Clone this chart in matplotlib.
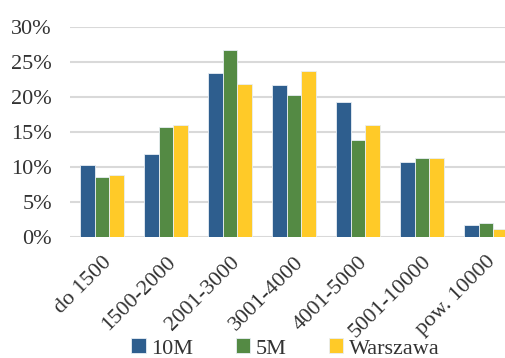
import matplotlib.pyplot as plt
import numpy as np
import matplotlib.ticker as ticker

# przedziały dochodu
kategorie = ["do 1500", "1500-2000", "2001-3000", "3001-4000", "4001-5000", "5001-10000", "pow. 10000"]

# udział procentowy
val_10m = [10.3, 11.9, 23.5, 21.8, 19.4, 10.8, 1.7]
val_5m = [8.6, 15.8, 26.8, 20.4, 13.9, 11.4, 2.0]
val_waw = [8.9, 16.0, 21.9, 23.8, 16.0, 11.4, 1.2]

serie = ["10M", "5M", "Warszawa"]
kolory = ["#2E5E8E", "#548A44", "#FFCA28"]

plt.rcParams["font.family"] = ["Liberation Serif", "DejaVu Serif"]

fig = plt.figure(figsize=(5.06, 3.58), dpi=100)
ax = fig.add_axes([70 / 506, (358 - 237.3) / 358, 448 / 506, 210 / 358])

x = np.arange(len(kategorie))
w = 0.227
for i, (dane, kolor, nazwa) in enumerate(zip([val_10m, val_5m, val_waw], kolory, serie)):
    ax.bar(x + (i - 1) * w, dane, width=w, color=kolor, label=nazwa,
           edgecolor="#E8EEF4", linewidth=0.6)

ax.set_xlim(-0.5, len(kategorie) - 0.5)
ax.set_ylim(0, 30)
ax.yaxis.set_major_locator(ticker.MultipleLocator(5))
ax.yaxis.set_major_formatter(ticker.FuncFormatter(lambda v, p: f"{int(v)}%"))
ax.grid(axis="y", color="#D9D9D9", linewidth=1.5)
ax.set_axisbelow(True)
for s in ax.spines.values():
    s.set_visible(False)

ax.set_xticks(x)
ax.set_xticklabels(kategorie, rotation=45, ha="right", rotation_mode="anchor")
ax.tick_params(axis="both", length=0, labelsize=16, colors="#333333")
ax.tick_params(axis="y", pad=13)
ax.tick_params(axis="x", pad=11)

ax.legend(loc="center", bbox_to_anchor=(0.481, -0.53), ncol=3, frameon=False,
          fontsize=16, handlelength=0.65, handleheight=0.65, columnspacing=1.9,
          handletextpad=0.25, borderaxespad=0, labelcolor="#333333")

fig.savefig("out.png", dpi=100)
